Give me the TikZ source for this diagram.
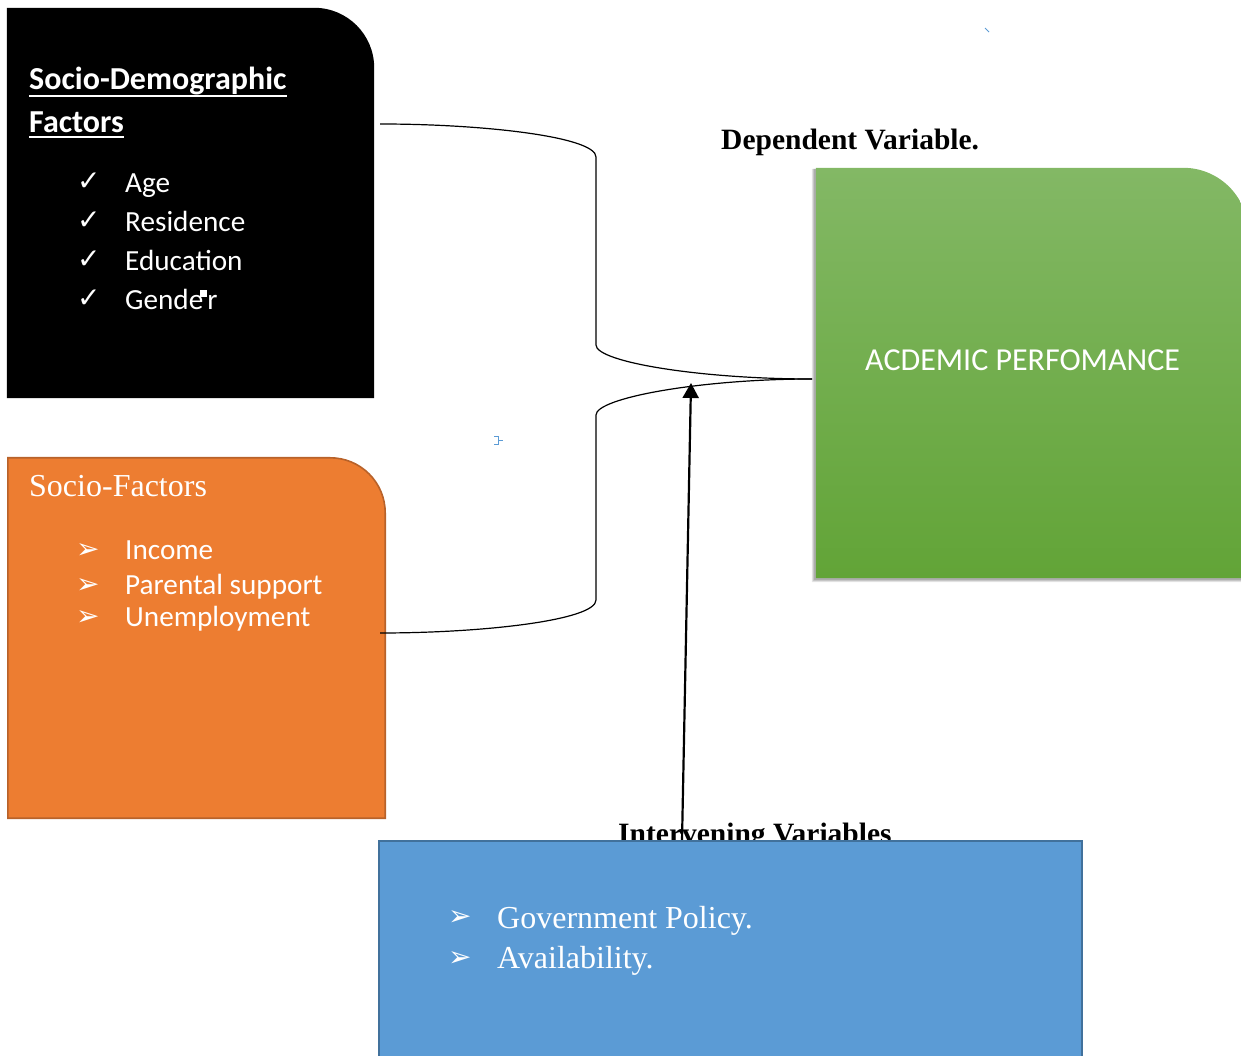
\documentclass[tikz,border=0pt]{standalone}
\usepackage{fontspec}
\setmainfont{Liberation Serif}
\newfontfamily\calfont{Carlito}
\newfontfamily\djfont{DejaVu Sans}
\usetikzlibrary{arrows.meta}
\definecolor{orfill}{HTML}{ED7D31}
\definecolor{ordraw}{HTML}{B8622A}
\definecolor{blfill}{HTML}{5B9BD5}
\definecolor{bldraw}{HTML}{41719C}
\definecolor{grtop}{HTML}{83B865}
\definecolor{grbot}{HTML}{62A437}
\definecolor{markblue}{HTML}{5B9BD5}
\begin{document}
\begin{tikzpicture}[x=1pt,y=1pt,
  frame/.style={inner sep=0pt, draw=none, fill=none},
  txt/.style={anchor=base west, inner sep=0pt, text=white},
  item/.style={txt, font=\calfont\fontsize{29.2}{34}\selectfont},
  tick/.style={txt, font=\djfont\fontsize{28}{32}\selectfont},
  link/.style={draw=black, line width=1.2pt},
  lbl/.style={anchor=base west, inner sep=0pt, text=black, font=\bfseries\fontsize{29.5}{34}\selectfont}]
\useasboundingbox (0,0) rectangle (1241,1055);
\clip (0,0) rectangle (1241,1055);

% frames (named nodes)
\node[frame, minimum width=367pt, minimum height=390pt] (sd) at (190.5,852) {};
\node[frame, minimum width=377pt, minimum height=360pt] (sf) at (196.5,417) {};
\node[frame, minimum width=432pt, minimum height=410pt] (ap) at (1032,682) {};
\node[frame, minimum width=703pt, minimum height=224pt] (iv) at (730.5,102) {};

% black box
\fill[black] (sd.south west) -- (sd.north west) -- ([xshift=-60pt]sd.north east)
  arc[start angle=90, end angle=0, radius=60pt] -- (sd.south east) -- cycle;
\node[txt, font=\calfont\bfseries\fontsize{32}{36}\selectfont] (sdt1) at (29,965) {Socio-Demographic};
\node[txt, font=\calfont\bfseries\fontsize{32}{36}\selectfont] (sdt2) at (29,922) {Factors};
\draw[white, line width=2.4pt] ([yshift=-6pt]sdt1.base west) -- ([yshift=-6pt]sdt1.base east);
\draw[white, line width=2.4pt] ([yshift=-4pt]sdt2.base west) -- ([yshift=-4pt]sdt2.base east);
\node[tick] (c1) at (77,864) {✓};
\node[tick] (c2) at (77,825) {✓};
\node[tick] (c3) at (77,786) {✓};
\node[tick] (c4) at (77,747) {✓};
\node[item] (i1) at (125,862) {Age};
\node[item] (i2) at (125,823) {Residence};
\node[item] (i3) at (125,784) {Education};
\node[item] (i4) at (125,745) {Gende\kern4pt r};
\fill[white] (200,758) rectangle (207,765);

% orange box
\filldraw[fill=orfill, draw=ordraw, line width=1.6pt] (sf.south west) -- (sf.north west) -- ([xshift=-55pt]sf.north east)
  arc[start angle=90, end angle=0, radius=55pt] -- (sf.south east) -- cycle;
\node[txt, font=\fontsize{32}{36}\selectfont] (sft) at (29,558) {Socio-Factors};
\node[tick] (a1) at (76,496) {➢};
\node[tick] (a2) at (76,461) {➢};
\node[tick] (a3) at (76,429) {➢};
\node[item] (j1) at (125,495) {Income};
\node[item] (j2) at (125,460) {Parental support};
\node[item] (j3) at (125,428) {Unemployment};

% green box with shadow
\foreach \s/\o in {4/0.10,3/0.12,2/0.14}{
  \fill[black, opacity=\o] ([xshift=-\s pt, yshift=-\s pt]ap.south west) -- ([xshift=-\s pt, yshift=-1pt]ap.north west)
    -- ([xshift=-65pt, yshift=-1pt]ap.north east) arc[start angle=90, end angle=0, radius=65pt]
    -- ([yshift=-\s pt]ap.south east) -- cycle;
}
\shade[top color=grtop, bottom color=grbot] (ap.south west) -- (ap.north west) -- ([xshift=-65pt]ap.north east)
  arc[start angle=90, end angle=0, radius=65pt] -- (ap.south east) -- cycle;
\node[txt, font=\calfont\fontsize{32}{36}\selectfont] (apt) at (865,684) {ACDEMIC PERFOMANCE};

% labels
\node[lbl] (dv) at (721,905) {Dependent Variable.};
\node[lbl] (ivl) at (618,212) {Intervening Variables};

% brace connectors
\coordinate (sdout) at (380,931);
\coordinate (sfout) at (380,422);
\coordinate (apin) at (812,676);
\draw[link] (sdout) .. controls (485,931) and (596,918) .. (596,898) -- (596,710)
  .. controls (596,693) and (700,676) .. (apin);
\draw[link] (sfout) .. controls (485,422) and (596,435) .. (596,455) -- (596,640)
  .. controls (596,657) and (700,676) .. (apin);

% arrow from intervening variables
\coordinate (tip) at (691,672);
\draw[line width=2.2pt, -{Triangle[width=16pt, length=15pt]}] ([xshift=-48.5pt]iv.north) -- (tip);

% blue box
\filldraw[fill=blfill, draw=bldraw, line width=2pt] (iv.south west) rectangle (iv.north east);
\node[tick] (b1) at (448,130) {➢};
\node[tick] (b2) at (448,89) {➢};
\node[txt, font=\fontsize{32}{36}\selectfont] (g1) at (497,127) {Government Policy.};
\node[txt, font=\fontsize{32}{36}\selectfont] (g2) at (497,87) {Availability.};

% small stray marks
\draw[markblue, line width=0.9pt] (494,618.5) -- (498,618.5) -- (498,611) -- (494,611);
\draw[markblue, line width=0.9pt] (498,614.5) -- (503,614.5);
\draw[markblue, line width=0.8pt] (985,1027) -- (989,1023);
\end{tikzpicture}
\end{document}
